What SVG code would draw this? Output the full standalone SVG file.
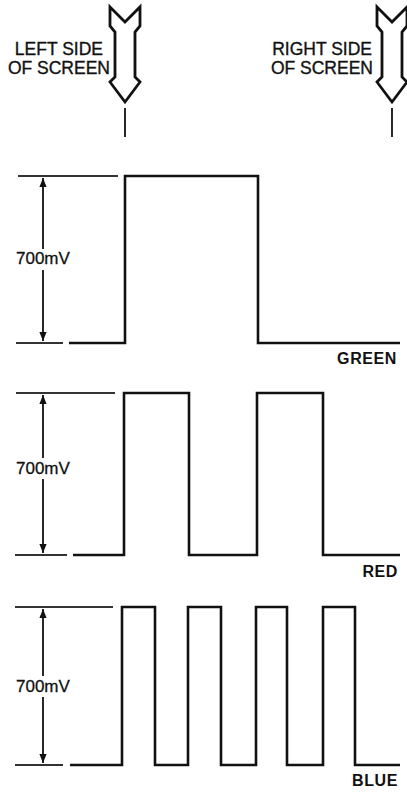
<svg xmlns="http://www.w3.org/2000/svg" width="407" height="792" viewBox="0 0 407 792">
<style>
.lbl{font-family:"Liberation Sans",Arial,sans-serif;font-size:17.5px;fill:#111;stroke:#111;stroke-width:0.35}
.mv{font-family:"Liberation Sans",Arial,sans-serif;font-size:17px;fill:#111;stroke:#111;stroke-width:0.3}
.ch{font-family:"Liberation Sans",Arial,sans-serif;font-size:16px;font-weight:bold;fill:#111;letter-spacing:0.6px}
.wave{fill:none;stroke:#111;stroke-width:2.6;stroke-linejoin:miter}
.ref{fill:none;stroke:#333;stroke-width:2}
.dim{fill:none;stroke:#111;stroke-width:1.8}
.big{fill:#fff;stroke:#111;stroke-width:2.8;stroke-linejoin:miter}
.tick{stroke:#111;stroke-width:1.8}
</style>
<defs>
<path id="bigarrow" d="M-15,7 L0,22 L15,7 L15,26 L10,32 L10,77 L15,82 L0,102 L-15,82 L-10,77 L-10,32 L-15,26 Z"/>
<marker id="ah" viewBox="0 0 10 10" refX="10" refY="5" markerWidth="9" markerHeight="9" markerUnits="userSpaceOnUse" orient="auto">
<path d="M0,1 L10,5 L0,9 Z" fill="#111"/>
</marker>
</defs>

<g id="left-marker">
<use href="#bigarrow" x="125" y="0" class="big"/>
<line class="tick" x1="125" y1="108" x2="125" y2="137"/>
<text class="lbl" x="103" y="55" text-anchor="end">LEFT SIDE</text>
<text class="lbl" x="110" y="74" text-anchor="end">OF SCREEN</text>
</g>

<g id="right-marker">
<use href="#bigarrow" x="392" y="0" class="big"/>
<line class="tick" x1="392" y1="108" x2="392" y2="137"/>
<text class="lbl" x="372" y="55" text-anchor="end">RIGHT SIDE</text>
<text class="lbl" x="373" y="74" text-anchor="end">OF SCREEN</text>
</g>

<g id="green">
<line class="ref" x1="18" y1="176" x2="118" y2="176"/>
<line class="ref" x1="16" y1="343" x2="63" y2="343"/>
<polyline class="wave" points="69,343 125,343 125,176 258,176 258,343 400,343"/>
<text class="mv" x="16" y="264">700mV</text>
<text class="ch" x="397" y="364" text-anchor="end">GREEN</text>
</g>

<g id="red">
<line class="ref" x1="16" y1="393" x2="115" y2="393"/>
<line class="ref" x1="15" y1="555" x2="67" y2="555"/>
<polyline class="wave" points="73,555 124,555 124,393 189,393 189,555 257,555 257,393 323,393 323,555 400,555"/>
<text class="mv" x="16" y="474">700mV</text>
<text class="ch" x="398" y="577" text-anchor="end">RED</text>
</g>

<g id="blue">
<line class="ref" x1="15" y1="607" x2="113" y2="607"/>
<line class="ref" x1="15" y1="765" x2="63" y2="765"/>
<polyline class="wave" points="70,765 122,765 122,607 155,607 155,765 188,765 188,607 221,607 221,765 256,765 256,607 287,607 287,765 323,765 323,607 355,607 355,765 400,765"/>
<text class="mv" x="16" y="692">700mV</text>
<text class="ch" x="398" y="786" text-anchor="end">BLUE</text>
</g>

<g id="connectors">
<line class="dim" x1="43" y1="249" x2="43" y2="178" marker-end="url(#ah)"/>
<line class="dim" x1="43" y1="270" x2="43" y2="341" marker-end="url(#ah)"/>
<line class="dim" x1="43" y1="458" x2="43" y2="395" marker-end="url(#ah)"/>
<line class="dim" x1="43" y1="479" x2="43" y2="553" marker-end="url(#ah)"/>
<line class="dim" x1="43" y1="676" x2="43" y2="609" marker-end="url(#ah)"/>
<line class="dim" x1="43" y1="697" x2="43" y2="763" marker-end="url(#ah)"/>
</g>
</svg>
